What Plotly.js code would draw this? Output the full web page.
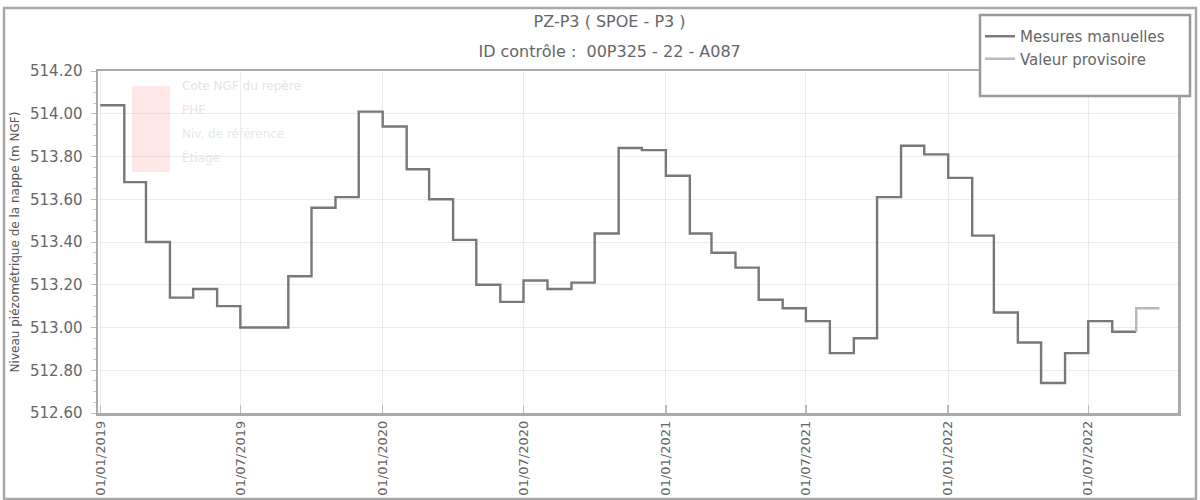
<!DOCTYPE html>
<html>
<head>
<meta charset="utf-8">
<script src="https://cdn.plot.ly/plotly-3.0.1.min.js"></script>
<style>
html,body{margin:0;padding:0;background:#fff;}
#chart{width:1200px;height:500px;}
</style>
</head>
<body>
<div id="chart"></div>
<script>
// ---- data ----
const mesureDates = [
  "2019-01-01","2019-02-01","2019-03-01","2019-04-01","2019-05-01","2019-06-01",
  "2019-07-01","2019-08-01","2019-09-01","2019-10-01","2019-11-01","2019-12-01",
  "2020-01-01","2020-02-01","2020-03-01","2020-04-01","2020-05-01","2020-06-01",
  "2020-07-01","2020-08-01","2020-09-01","2020-10-01","2020-11-01","2020-12-01",
  "2021-01-01","2021-02-01","2021-03-01","2021-04-01","2021-05-01","2021-06-01",
  "2021-07-01","2021-08-01","2021-09-01","2021-10-01","2021-11-01","2021-12-01",
  "2022-01-01","2022-02-01","2022-03-01","2022-04-01","2022-05-01","2022-06-01",
  "2022-07-01","2022-08-01","2022-09-01"
];
const mesureValues = [
  514.04, 513.68, 513.40, 513.14, 513.18, 513.10,
  513.00, 513.00, 513.24, 513.56, 513.61, 514.01,
  513.94, 513.74, 513.60, 513.41, 513.20, 513.12,
  513.22, 513.18, 513.21, 513.44, 513.84, 513.83,
  513.71, 513.44, 513.35, 513.28, 513.13, 513.09,
  513.03, 512.88, 512.95, 513.61, 513.85, 513.81,
  513.70, 513.43, 513.07, 512.93, 512.74, 512.88,
  513.03, 512.98, 512.98
];
const provDates = ["2022-09-01","2022-10-01"];
const provValues = [512.98, 513.09];
const yTicks = [512.60, 512.80, 513.00, 513.20, 513.40, 513.60, 513.80, 514.00, 514.20];

const titleLine1 = "PZ-P3 ( SPOE - P3 )";
const titleLine2 = "ID contrôle :  00P325 - 22 - A087";
const yTitle = "Niveau piézométrique de la nappe (m NGF)";
const legendNames = ["Mesures manuelles", "Valeur provisoire"];

// ---- layout helpers (pixels -> paper) ----
const L = 98, R = 1178, T = 71, B = 413;
const px = x => (x - L) / (R - L);
const py = y => (B - y) / (B - T);

const traces = [
  {
    x: mesureDates, y: mesureValues, type: "scatter", mode: "lines",
    name: legendNames[0],
    line: {shape: "hv", color: "#787878", width: 2.4}
  },
  {
    x: provDates, y: provValues, type: "scatter", mode: "lines",
    name: legendNames[1],
    line: {shape: "vh", color: "#b8b8b8", width: 2.4}
  }
];

const span = t => "<span style='font-size:16px'>" + t + "</span>";

const layout = {
  width: 1200, height: 500,
  margin: {l: L, r: 1200 - R, t: T, b: 500 - B, pad: 0},
  paper_bgcolor: "#ffffff",
  plot_bgcolor: "#ffffff",
  font: {family: "DejaVu Sans, sans-serif", color: "#555", size: 12},
  title: {
    text: span(titleLine1) + "<br>" + span(titleLine2),
    x: 0.508, xanchor: "center", xref: "container",
    y: 0.946, yanchor: "top", yref: "container",
    font: {size: 23, color: "#666"}
  },
  showlegend: true,
  legend: {
    x: px(980), y: py(20), xanchor: "left", yanchor: "top",
    bgcolor: "rgba(255,255,255,0)", borderwidth: 0,
    font: {size: 15, color: "#666"},
    itemwidth: 30,
    tracegroupgap: 0
  },
  xaxis: {
    type: "date",
    range: ["2018-12-29", "2022-10-25"],
    tick0: "2019-01-01", dtick: "M6",
    tickformat: "%d/%m/%Y",
    tickangle: -90,
    ticks: "inside", ticklen: 8, tickcolor: "#bbb", tickwidth: 1.5,
    showgrid: true, gridcolor: "#ececec", gridwidth: 1,
    showline: true, linecolor: "#aaa", linewidth: 2.5, mirror: true,
    tickfont: {size: 13, color: "#666"},
    zeroline: false
  },
  yaxis: {
    range: [512.6, 514.2],
    tickvals: yTicks,
    tickformat: ".2f",
    ticks: "outside", ticklen: 5, tickcolor: "#bbb",
    ticklabelstandoff: 5,
    minor: {dtick: 0.05, ticks: "outside", ticklen: 3, tickcolor: "#ccc", showgrid: false},
    showgrid: true, gridcolor: "#ececec", gridwidth: 1,
    showline: true, linecolor: "#aaa", linewidth: 2.5, mirror: true,
    tickfont: {size: 15, color: "#666"},
    zeroline: false,
    automargin: false,
    title: {text: yTitle, font: {size: 12, color: "#555"}, standoff: 8}
  },
  shapes: [
    // outer frame of the figure
    {type: "rect", xref: "paper", yref: "paper",
     x0: px(4), x1: px(1196), y0: py(499), y1: py(8),
     line: {color: "#a8a8a8", width: 2.5}, fillcolor: "rgba(0,0,0,0)", layer: "below"},
    // legend box
    {type: "rect", xref: "paper", yref: "paper",
     x0: px(980), x1: px(1190), y0: py(96), y1: py(15),
     line: {color: "#999", width: 2.5}, fillcolor: "#ffffff", layer: "above"},
    // faint pink band of the overlay block
    {type: "rect", xref: "paper", yref: "paper",
     x0: px(132), x1: px(170), y0: py(172), y1: py(86),
     line: {width: 0}, fillcolor: "rgba(255,170,170,0.28)", layer: "above"}
  ],
  annotations: [
    {xref: "paper", yref: "paper", x: px(180), y: py(86), xanchor: "left", yanchor: "middle",
     text: "Cote NGF du repère", showarrow: false, font: {size: 12, color: "#e4e4e4"}},
    {xref: "paper", yref: "paper", x: px(180), y: py(110), xanchor: "left", yanchor: "middle",
     text: "PHE", showarrow: false, font: {size: 12, color: "#f4dede"}},
    {xref: "paper", yref: "paper", x: px(180), y: py(134), xanchor: "left", yanchor: "middle",
     text: "Niv. de référence", showarrow: false, font: {size: 12, color: "#e2ebe4"}},
    {xref: "paper", yref: "paper", x: px(180), y: py(157), xanchor: "left", yanchor: "middle",
     text: "Étiage", showarrow: false, font: {size: 12, color: "#e6e6e6"}}
  ]
};

Plotly.newPlot("chart", traces, layout, {displayModeBar: false, staticPlot: true});
</script>
</body>
</html>
